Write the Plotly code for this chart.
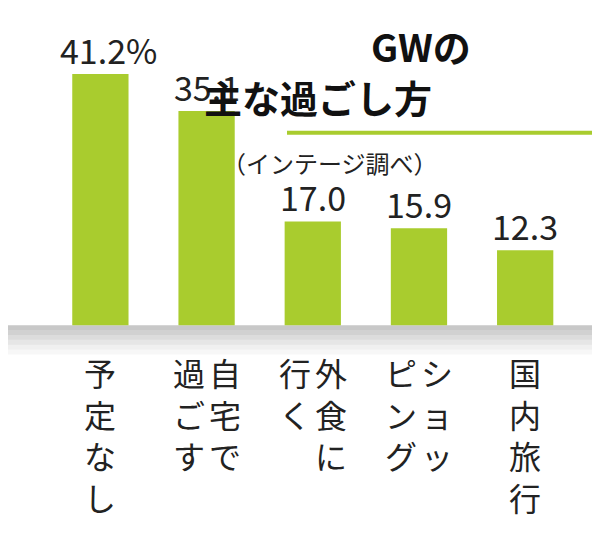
import plotly.graph_objects as go

categories = ["予定なし", "自宅で過ごす", "外食に行く", "ショッピング", "国内旅行"]
values = [41.2, 35.1, 17.0, 15.9, 12.3]
value_labels = ["41.2%", "35.1", "17.0", "15.9", "12.3"]
# vertical label columns, right column first (read right to left)
label_columns = [["予定なし"], ["自宅で", "過ごす"], ["外食に", "行く"], ["ショッ", "ピング"], ["国内旅行"]]

FONT = "Noto Sans CJK JP"
x = list(range(len(categories)))

fig = go.Figure(go.Bar(
    x=x, y=values, width=0.53, marker_color="#a9cc2e", marker_line_width=0,
))

for xi, v, t in zip(x, values, value_labels):
    fig.add_annotation(x=xi + (0.08 if t.endswith("%") else 0), y=v, yanchor="bottom",
                       yshift=-2, showarrow=False, text=t,
                       font=dict(family=FONT, size=34, color="#222"))

# gray shading under baseline
for i, op in enumerate([0.55, 0.45, 0.35, 0.25, 0.15, 0.08]):
    fig.add_shape(type="rect", xref="paper", yref="y", x0=0, x1=1,
                  y0=-i * 0.8, y1=-(i + 1) * 0.8, fillcolor="#9a9a9a",
                  opacity=op, line_width=0, layer="below")

for xi, cols in zip(x, label_columns):
    n = len(cols)
    for j, col in enumerate(cols):
        offset = 0 if n == 1 else (0.17 if j == 0 else -0.17)
        fig.add_annotation(x=xi + offset, y=-3.5, yanchor="top", showarrow=False,
                           text="<br>".join(col),
                           font=dict(family=FONT, size=32, color="#222"))

fig.add_annotation(xref="paper", yref="paper", x=0.775, y=0.985, yanchor="top",
                   showarrow=False, text="<b>GWの</b>",
                   font=dict(family=FONT, size=38, color="#111"))
fig.add_annotation(xref="paper", yref="paper", x=0.71, y=0.89, yanchor="top",
                   showarrow=False, text="<b>主な過ごし方</b>",
                   font=dict(family=FONT, size=38, color="#111"))
fig.add_shape(type="line", xref="paper", yref="paper", x0=0.465, x1=0.975,
              y0=0.768, y1=0.768, line=dict(color="#a9cc2e", width=4))
fig.add_annotation(xref="paper", yref="paper", x=0.72, y=0.75, yanchor="top",
                   showarrow=False, text="（インテージ調べ）",
                   font=dict(family=FONT, size=24, color="#222"))

fig.update_layout(
    width=600, height=538, margin=dict(l=0, r=0, t=0, b=0),
    plot_bgcolor="white", paper_bgcolor="white", showlegend=False,
    xaxis=dict(range=[-0.87, 4.78], visible=False),
    yaxis=dict(range=[-36.2, 52.0], visible=False),
)
fig.write_html("out.html")
